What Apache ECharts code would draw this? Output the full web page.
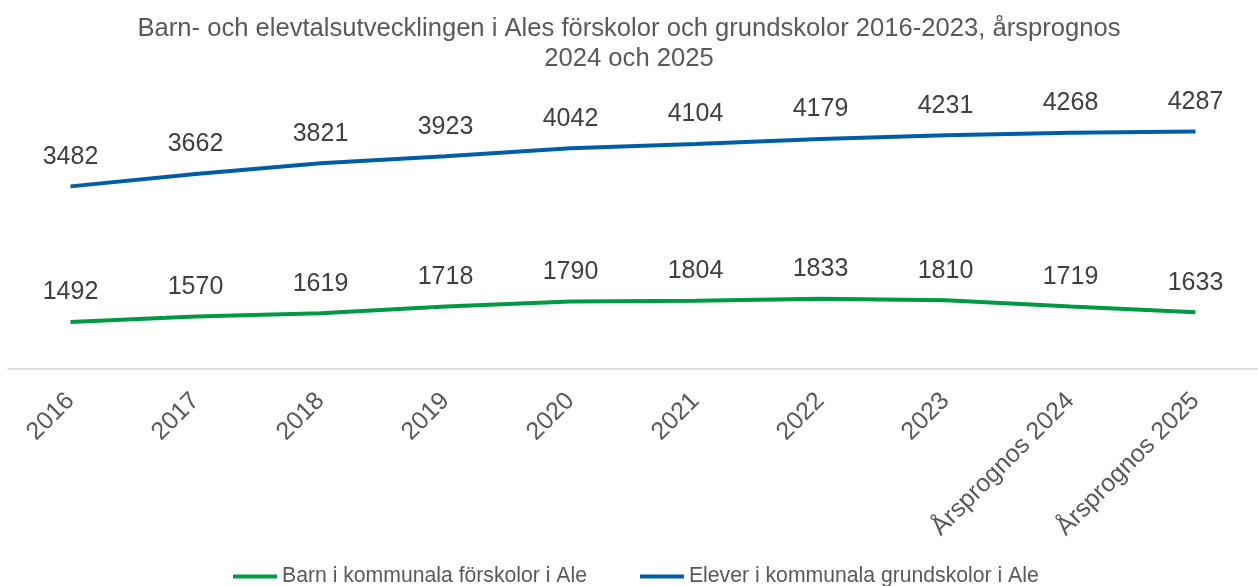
<!DOCTYPE html>
<html><head><meta charset="utf-8">
<script src="https://cdn.jsdelivr.net/npm/echarts@6/dist/echarts.min.js"></script>
<style>html,body{margin:0;padding:0;background:#fff}#c{width:1258px;height:586px}</style>
</head><body><div id="c"></div>
<script>
const categories = ['2016','2017','2018','2019','2020','2021','2022','2023','Årsprognos 2024','Årsprognos 2025'];
const barn = [1492,1570,1619,1718,1790,1804,1833,1810,1719,1633];
const elever = [3482,3662,3821,3923,4042,4104,4179,4231,4268,4287];
const seriesNames = ['Barn i kommunala förskolor i Ale','Elever i kommunala grundskolor i Ale'];
const font = 'Liberation Sans, Arial, sans-serif';
const txt = '#595959';
const chart = echarts.init(document.getElementById('c'));
const lbl = {show:true,position:'top',distance:17,fontFamily:font,fontSize:25,color:'#404040'};
chart.setOption({
  animation:false,
  title:{text:'Barn- och elevtalsutvecklingen i Ales förskolor och grundskolor 2016-2023, årsprognos\n2024 och 2025',
    left:'center', top:9, textStyle:{fontFamily:font,fontSize:25.6,fontWeight:'normal',color:txt,lineHeight:30}},
  grid:{left:8,right:-7,top:83,bottom:217,containLabel:false},
  legend:{top:561,left:228,itemWidth:44,itemHeight:4,icon:'rect',itemGap:53,
    textStyle:{fontFamily:font,fontSize:21.2,color:txt},data:seriesNames},
  xAxis:{type:'category',data:categories,boundaryGap:true,
    axisLine:{lineStyle:{color:'#d9d9d9',width:1.5}},axisTick:{show:false},
    axisLabel:{rotate:45,interval:0,margin:28,fontFamily:font,fontSize:25,color:txt}},
  yAxis:{type:'value',min:800,max:5000,show:false,splitLine:{show:false}},
  series:[
    {name:seriesNames[0],type:'line',data:barn,symbol:'circle',symbolSize:0.1,showSymbol:true,
     lineStyle:{width:4,color:'#009A44'},itemStyle:{color:'#009A44'},label:lbl},
    {name:seriesNames[1],type:'line',data:elever,symbol:'circle',symbolSize:0.1,showSymbol:true,
     lineStyle:{width:4,color:'#005EA8'},itemStyle:{color:'#005EA8'},label:lbl}
  ]
});
</script></body></html>
